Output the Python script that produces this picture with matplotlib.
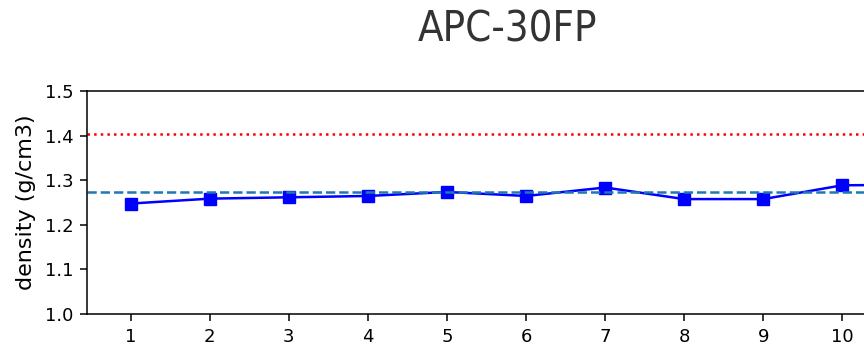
import matplotlib
matplotlib.use("Agg")
import matplotlib.pyplot as plt

samples = [1, 2, 3, 4, 5, 6, 7, 8, 9, 10, 11]
density = [1.248, 1.259, 1.262, 1.265, 1.274, 1.265, 1.284, 1.258, 1.258, 1.289, 1.290]
mean_density = 1.273
limit_density = 1.405
xticks = [1, 2, 3, 4, 5, 6, 7, 8, 9, 10]
yticks = [1.0, 1.1, 1.2, 1.3, 1.4, 1.5]
title = "APC-30FP"

W, H = 864, 346
fig = plt.figure(figsize=(W / 100, H / 100), dpi=100)
left, right, top, bottom = 87.3, 1044, 91.3, 314
ax = fig.add_axes([left / W, 1 - bottom / H, (right - left) / W, (bottom - top) / H])

ax.plot(samples, density, color="blue", marker="s", markersize=8.5, linewidth=1.8)
ax.axhline(mean_density, color="#1f77b4", linestyle="--", linewidth=1.8)
ax.axhline(limit_density, color="red", linestyle=":", linewidth=1.8)

ax.set_xlim(0.45, 12.55)
ax.set_ylim(1.0, 1.5)
ax.set_xticks(xticks)
ax.set_yticks(yticks)
ax.tick_params(labelsize=13, length=5, width=1.1, pad=5)
for s in ax.spines.values():
    s.set_linewidth(1.1)
ax.set_ylabel("density (g/cm3)", fontsize=16, labelpad=6)

fig.text(507 / W, 1 - 29 / H, title, ha="center", va="center", fontsize=30,
         color="#333333", fontstretch="condensed")

fig.savefig("out.png", dpi=100)
